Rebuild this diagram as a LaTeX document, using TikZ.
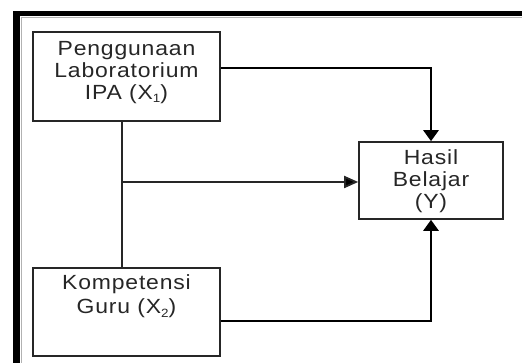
\documentclass[tikz,border=0pt]{standalone}
\usepackage{fontspec}
\setmainfont{Liberation Sans}[FakeStretch=1.12,LetterSpace=4]
\usetikzlibrary{arrows.meta}
\newcommand{\subidx}[1]{\raisebox{-3pt}{\fontsize{12}{12}\selectfont #1}}
\begin{document}
\begin{tikzpicture}[x=1pt,y=-1pt,
 box/.style={draw=black!85,line width=1.6pt,inner sep=0pt},
 lbl/.style={anchor=base,inner sep=0pt,text=black!85,font=\fontsize{20.5}{22}\selectfont},
 thickconn/.style={line width=2.8pt,-{Triangle[width=15pt,length=11pt]}},
 thinconn/.style={line width=1.8pt,draw=black!85},
 thinarrow/.style={line width=1.8pt,draw=black!85,-{Triangle[width=12pt,length=14pt,fill=black]}},
]
\useasboundingbox (0,0) rectangle (522,363);
% frame
\fill (13,11) rectangle (522,16.5);
\fill (13,11) rectangle (20,363);
\draw[black!30,line width=0.8pt] (21,363) -- (21,17.5) -- (522,17.5);
% boxes
\node[box,minimum width=187pt,minimum height=89pt] (x1) at (126.5,76.5) {};
\node[box,minimum width=187pt,minimum height=88pt] (x2) at (126.5,312) {};
\node[box,minimum width=144pt,minimum height=77pt] (y) at (431,180.5) {};
% labels
\node[lbl] (x1a) at (126.5,56) {Penggunaan};
\node[lbl] (x1b) at (126.5,78) {Laboratorium};
\node[lbl] (x1c) at (126.5,100) {IPA (X\subidx{1})};
\node[lbl] (x2a) at (126.5,290) {Kompetensi};
\node[lbl] (x2b) at (126.5,314) {Guru (X\subidx{2})};
\node[lbl] (ya) at (431,165) {Hasil};
\node[lbl] (yb) at (431,187) {Belajar};
\node[lbl] (yc) at (431,209) {(Y)};
% connectors
\draw[thickconn] ([yshift=8.5pt]x1.east) -| (y.north);
\draw[thickconn] ([yshift=-9pt]x2.east) -| (y.south);
\coordinate (top) at ([xshift=-4.5pt]x1.south);
\coordinate (bot) at ([xshift=-4.5pt]x2.north);
\draw[thinconn] (top) -- (bot);
\coordinate (j) at (122,182);
\draw[thinarrow] (j) -- (j -| y.west);
\end{tikzpicture}
\end{document}
